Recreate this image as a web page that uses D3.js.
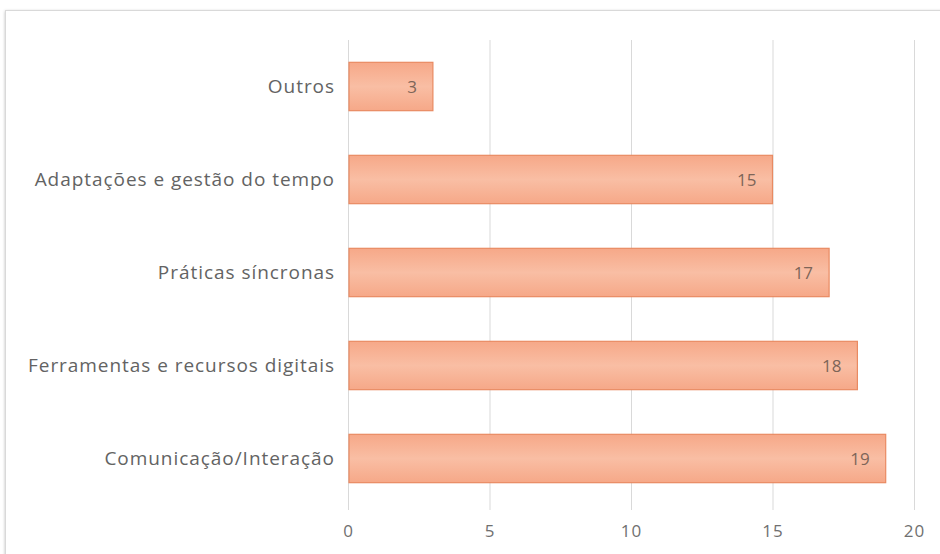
<!DOCTYPE html>
<html><head><meta charset="utf-8">
<script src="https://cdn.jsdelivr.net/npm/d3@7"></script>
<style>body{margin:0;background:#fff;} svg{display:block;}</style>
</head><body>
<svg id="c" width="940" height="554"></svg>
<script>
const categories = ["Outros","Adaptações e gestão do tempo","Práticas síncronas","Ferramentas e recursos digitais","Comunicação/Interação"];
const values = [3,15,17,18,19];
const ticks = [0,5,10,15,20];

const FONT = "'Open Sans', 'DejaVu Sans', sans-serif";
const svg = d3.select("#c");
const defs = svg.append("defs");
const g1 = defs.append("linearGradient").attr("id","bg").attr("x1",0).attr("y1",0).attr("x2",0).attr("y2",1);
g1.append("stop").attr("offset","0%").attr("stop-color","#F6A888");
g1.append("stop").attr("offset","50%").attr("stop-color","#F9BEA4");
g1.append("stop").attr("offset","100%").attr("stop-color","#F6A888");
const sh = defs.append("filter").attr("id","sh").attr("x","-5%").attr("y","-5%").attr("width","110%").attr("height","110%");
sh.append("feDropShadow").attr("dx",0).attr("dy",1).attr("stdDeviation",1.5).attr("flood-color","#000").attr("flood-opacity",0.25);

// frame
svg.append("rect").attr("x",5.5).attr("y",10.5).attr("width",960).attr("height",600)
  .attr("fill","#fff").attr("stroke","#d9d9d9").attr("filter","url(#sh)");

const x = d3.scaleLinear().domain([0,20]).range([348,914]);
const y = d3.scaleBand().domain(categories).range([40,505]).paddingInner(0.48).paddingOuter(0.24);

// gridlines
svg.append("g").selectAll("line").data(ticks).join("line")
  .attr("x1",d=>x(d)+0.5).attr("x2",d=>x(d)+0.5).attr("y1",40).attr("y2",510)
  .attr("stroke","#d9d9d9").attr("stroke-width",1);

// x axis labels
const xa = svg.append("g").attr("transform","translate(0,505)")
  .call(d3.axisBottom(x).tickValues(ticks).tickSize(0).tickPadding(20));
xa.select(".domain").remove();
xa.selectAll("text").attr("fill","#707070").style("font-family",FONT).style("font-size","17px").style("letter-spacing","1px");

// y axis labels
const ya = svg.append("g").attr("transform","translate(348,0)")
  .call(d3.axisLeft(y).tickSize(0).tickPadding(13));
ya.select(".domain").remove();
ya.selectAll("text").attr("fill","#636363").style("font-family",FONT).style("font-size","19px").style("letter-spacing","0.95px");

// bars
svg.append("g").selectAll("rect").data(values).join("rect")
  .attr("x",x(0)+1).attr("y",(d,i)=>y(categories[i]))
  .attr("width",d=>x(d)-x(0)-1).attr("height",y.bandwidth())
  .attr("fill","url(#bg)").attr("stroke","#E98A62").attr("stroke-width",1.2);

// value labels
svg.append("g").selectAll("text").data(values).join("text")
  .attr("x",d=>x(d)-16).attr("y",(d,i)=>y(categories[i])+y.bandwidth()/2)
  .attr("text-anchor","end").attr("dominant-baseline","central")
  .attr("fill","#7e6558").style("font-family",FONT).style("font-size","17px")
  .text(d=>d);
</script>
</body></html>
